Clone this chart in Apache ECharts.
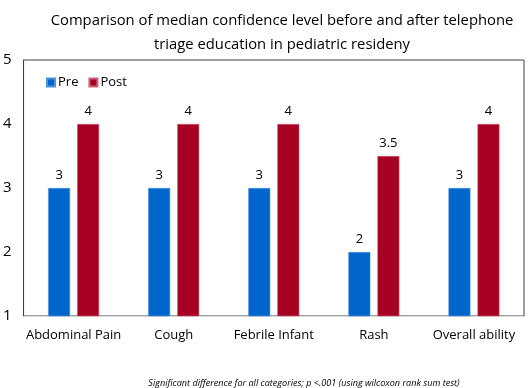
<!DOCTYPE html>
<html>
<head>
<meta charset="utf-8">
<script src="https://cdn.jsdelivr.net/npm/echarts@6/dist/echarts.min.js"></script>
<style>
  html, body { margin: 0; padding: 0; background: #fff; }
  #chart { width: 529px; height: 388px; }
</style>
</head>
<body>
<div id="chart"></div>
<script>
// data
var categories = ['Abdominal Pain', 'Cough', 'Febrile Infant', 'Rash', 'Overall ability']
var preValues = [3, 3, 3, 2, 3]
var postValues = [4, 4, 4, 3.5, 4]
var yTicks = [1, 2, 3, 4, 5]

var font = '"Open Sans", sans-serif'
var chart = echarts.init(document.getElementById('chart'))

chart.setOption({
  animation: false,
  textStyle: { fontFamily: font },
  title: [
    {
      text: 'Comparison of median confidence level before and after telephone\ntriage education in pediatric resideny',
      left: 277,
      textAlign: 'center',
      top: 4,
      textStyle: { fontSize: 14.8, fontWeight: 'normal', color: '#000', lineHeight: 24, fontFamily: font }
    },
    {
      text: 'Significant difference for all categories; p <.001 (using wilcoxon rank sum test)',
      left: 299,
      textAlign: 'center',
      top: 374,
      textStyle: { fontSize: 9.1, fontStyle: 'italic', fontWeight: 'normal', color: '#000', fontFamily: font }
    }
  ],
  legend: {
    left: 41,
    top: 71,
    itemWidth: 8,
    itemHeight: 8,
    itemGap: 10,
    icon: 'rect',
    textStyle: { fontSize: 13, color: '#000', padding: [0, 0, 0, -2] },
    data: ['Pre', 'Post']
  },
  grid: {
    left: 23, right: 5, top: 60, bottom: 72,
    show: true, borderColor: '#404040', borderWidth: 1
  },
  xAxis: {
    type: 'category',
    data: categories,
    axisLine: { lineStyle: { color: '#d9d9d9' } },
    axisTick: { show: false },
    axisLabel: { color: '#000', fontSize: 13, margin: 13, interval: 0 }
  },
  yAxis: {
    type: 'value',
    min: yTicks[0],
    max: yTicks[yTicks.length - 1],
    interval: 1,
    splitLine: { show: false },
    axisLine: { show: true, lineStyle: { color: '#404040' } },
    axisTick: { show: false },
    axisLabel: { color: '#000', fontSize: 15, margin: 12 }
  },
  series: [
    {
      name: 'Pre',
      type: 'bar',
      data: preValues,
      barWidth: 22,
      barGap: '32%',
      itemStyle: { color: '#0066cc', borderColor: '#4d94e0', borderWidth: 0.6 },
      label: { show: true, position: 'top', distance: 6, color: '#000', fontSize: 13 }
    },
    {
      name: 'Post',
      type: 'bar',
      data: postValues,
      barWidth: 22,
      itemStyle: { color: '#a50021', borderColor: '#d06078', borderWidth: 0.6 },
      label: { show: true, position: 'top', distance: 6, color: '#000', fontSize: 13 }
    }
  ]
})
</script>
</body>
</html>
